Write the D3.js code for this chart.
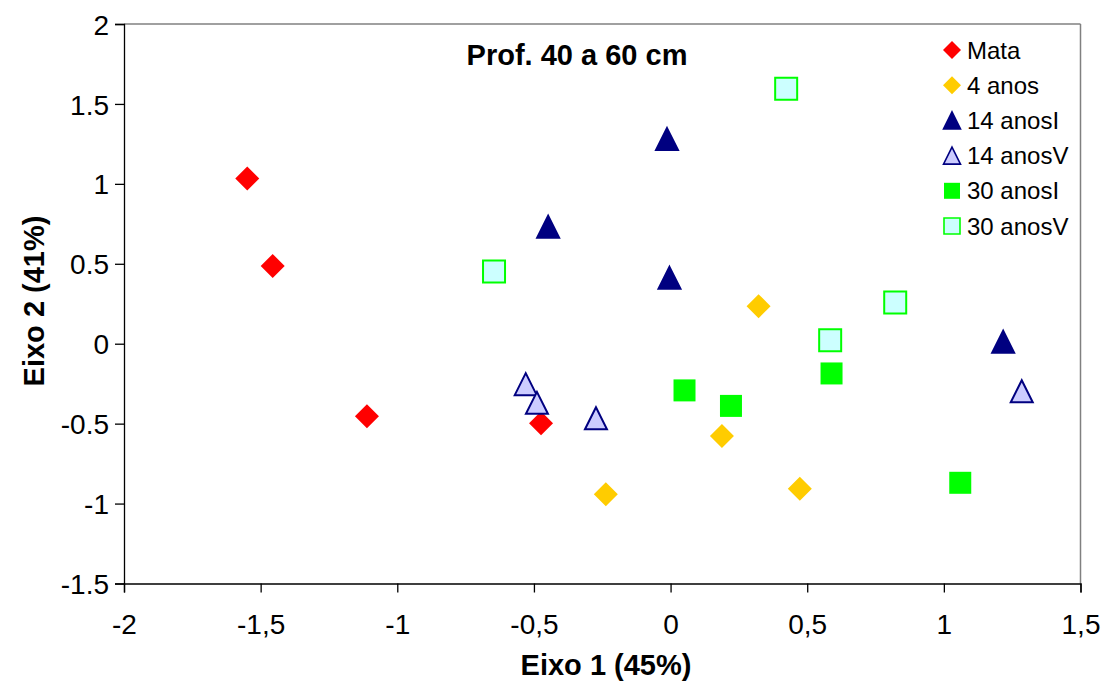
<!DOCTYPE html>
<html>
<head>
<meta charset="utf-8">
<script src="https://cdn.jsdelivr.net/npm/d3@7"></script>
<style>
  html, body { margin: 0; padding: 0; background: #fff; }
  svg { display: block; font-family: "Liberation Sans", Arial, sans-serif; }
</style>
</head>
<body>
<svg id="chart" width="1105" height="686"></svg>
<script>
// ---- Data ----
const seriesNames = ["Mata", "4 anos", "14 anosI", "14 anosV", "30 anosI", "30 anosV"];
const mataX = [-1.549, -1.456, -1.111, -0.474];
const mataY = [1.034, 0.486, -0.453, -0.497];
const anos4X = [0.322, 0.188, -0.237, 0.473];
const anos4Y = [0.235, -0.578, -0.941, -0.908];
const anos14IX = [-0.013, -0.448, -0.004, 1.217];
const anos14IY = [1.280, 0.732, 0.412, 0.012];
const anos14VX = [-0.530, -0.489, -0.273, 1.285];
const anos14VY = [-0.253, -0.370, -0.466, -0.297];
const anos30IX = [0.051, 0.221, 0.589, 1.060];
const anos30IY = [-0.292, -0.389, -0.186, -0.870];
const anos30VX = [0.423, -0.646, 0.822, 0.584];
const anos30VY = [1.595, 0.452, 0.258, 0.021];
const xTicks = [-2, -1.5, -1, -0.5, 0, 0.5, 1, 1.5];
const yTicks = [-1.5, -1, -0.5, 0, 0.5, 1, 1.5, 2];
const titleText = "Prof. 40 a 60 cm";
const xTitle = "Eixo 1 (45%)";
const yTitle = "Eixo 2 (41%)";

// ---- Styles ----
const styles = [
  {shape: "diamond", fill: "#FF0000", stroke: "none"},
  {shape: "diamond", fill: "#FFCC00", stroke: "none"},
  {shape: "triangle", fill: "#000080", stroke: "#000080"},
  {shape: "triangle", fill: "#CCCCFF", stroke: "#000080"},
  {shape: "square", fill: "#00FF00", stroke: "none"},
  {shape: "square", fill: "#CCFFFF", stroke: "#00FF00"}
];
const xs = [mataX, anos4X, anos14IX, anos14VX, anos30IX, anos30VX];
const ys = [mataY, anos4Y, anos14IY, anos14VY, anos30IY, anos30VY];
const series = seriesNames.map((n, i) => ({
  name: n, style: styles[i],
  points: xs[i].map((x, j) => ({x: x, y: ys[i][j]}))
}));

const svg = d3.select("#chart");
const L = 124, R = 1080.5, T = 24, B = 583.5;

const x = d3.scaleLinear().domain([-2, 1.5]).range([L, R]);
const y = d3.scaleLinear().domain([-1.5, 2]).range([B, T]);

function shapePath(shape, s) {
  const h = s / 2;
  if (shape === "diamond") return `M0,${-h}L${h},0L0,${h}L${-h},0Z`;
  if (shape === "square") return `M${-h},${-h}H${h}V${h}H${-h}Z`;
  if (shape === "triangle") return `M0,${-h}L${h},${h}L${-h},${h}Z`;
}
const sizeMain = {diamond: 24, square: 22, triangle: 22};
const sizeLeg = {diamond: 18, square: 16, triangle: 17};

// frame: top and right gray
svg.append("line").attr("x1", L).attr("x2", R).attr("y1", T).attr("y2", T)
  .attr("stroke", "#808080").attr("stroke-width", 1.5);
svg.append("line").attr("x1", R).attr("x2", R).attr("y1", T).attr("y2", B)
  .attr("stroke", "#808080").attr("stroke-width", 1.5);

// axes
const xAxis = d3.axisBottom(x).tickValues(xTicks).tickSize(9).tickPadding(22)
  .tickFormat(d => String(d).replace(".", ","));
const yAxis = d3.axisLeft(y).tickValues(yTicks).tickSize(9).tickPadding(6)
  .tickFormat(d => String(d));

const gx = svg.append("g").attr("transform", `translate(0,${B})`).call(xAxis);
const gy = svg.append("g").attr("transform", `translate(${L},0)`).call(yAxis);
[gx, gy].forEach(g => {
  g.select(".domain").attr("stroke", "#000").attr("stroke-width", 1.3);
  g.selectAll(".tick line").attr("stroke", "#000").attr("stroke-width", 1.3);
  g.selectAll(".tick text").attr("fill", "#000")
    .style("font-family", '"Liberation Sans", Arial, sans-serif')
    .style("font-size", "28px");
});
gy.selectAll(".tick text").attr("dy", "0.36em");

// points
series.forEach(s => {
  svg.append("g").selectAll("path").data(s.points).join("path")
    .attr("transform", d => `translate(${x(d.x)},${y(d.y)})`)
    .attr("d", shapePath(s.style.shape, sizeMain[s.style.shape]))
    .attr("fill", s.style.fill)
    .attr("stroke", s.style.stroke)
    .attr("stroke-width", s.style.stroke === "none" ? 0 : 2);
});

// title
svg.append("text").attr("x", 577).attr("y", 65).attr("text-anchor", "middle")
  .style("font-size", "29px").style("font-weight", "bold").text(titleText);

// axis titles
svg.append("text").attr("x", 606).attr("y", 675).attr("text-anchor", "middle")
  .style("font-size", "29px").style("font-weight", "bold").text(xTitle);
svg.append("text").attr("transform", "translate(44,301) rotate(-90)")
  .attr("text-anchor", "middle")
  .style("font-size", "29px").style("font-weight", "bold").text(yTitle);

// legend
const legY0 = 50, legDY = 35.2, legMX = 952, legTX = 967;
const leg = svg.append("g");
series.forEach((s, i) => {
  const cy = legY0 + i * legDY;
  leg.append("path")
    .attr("transform", `translate(${legMX},${cy})`)
    .attr("d", shapePath(s.style.shape, sizeLeg[s.style.shape]))
    .attr("fill", s.style.fill)
    .attr("stroke", s.style.stroke)
    .attr("stroke-width", s.style.stroke === "none" ? 0 : 1.6);
  leg.append("text").attr("x", legTX).attr("y", cy).attr("dy", "0.36em")
    .style("font-size", "24px").text(s.name);
});
</script>
</body>
</html>
